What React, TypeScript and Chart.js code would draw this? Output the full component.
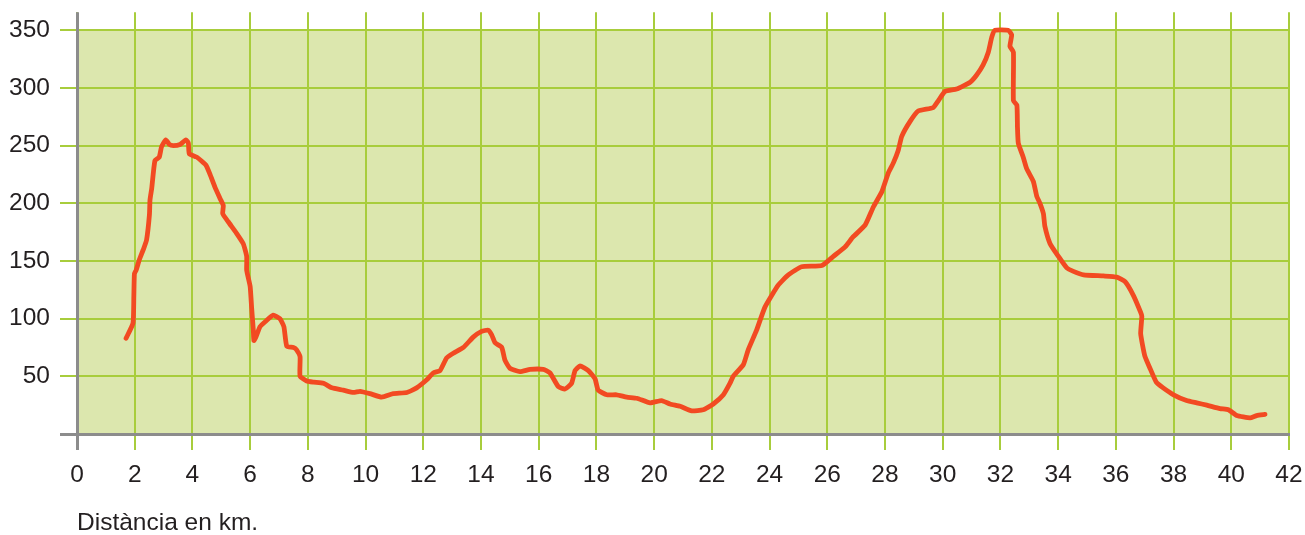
import React, { useEffect, useRef } from "react";
import { Chart, registerables } from "chart.js";

Chart.register(...registerables);

const distanceKm = [
  1.7, 1.94, 1.97, 1.99, 2.05, 2.16, 2.3, 2.41, 2.51, 2.53, 2.59, 2.7, 2.85, 2.93, 3.08, 3.2, 3.34, 3.57, 3.78, 3.86,
  3.89, 4.15, 4.47, 4.61, 4.78, 4.96, 5.07, 5.05, 5.24, 5.53, 5.76, 5.88, 5.88, 6.0, 6.05, 6.11, 6.13, 6.2, 6.34, 6.55,
  6.8, 7.03, 7.17, 7.27, 7.5, 7.61, 7.73, 7.73, 7.96, 8.2, 8.54, 8.83, 9.23, 9.58, 9.81, 10.15, 10.56, 10.96, 11.43, 11.77,
  12.12, 12.35, 12.58, 12.81, 13.04, 13.39, 13.73, 14.02, 14.25, 14.37, 14.49, 14.72, 14.83, 15.0, 15.35, 15.7, 16.16, 16.39, 16.68, 16.91,
  17.14, 17.26, 17.43, 17.72, 17.95, 18.06, 18.36, 18.7, 19.05, 19.4, 19.86, 20.26, 20.55, 20.9, 21.3, 21.7, 22.05, 22.4, 22.63, 22.74,
  23.09, 23.26, 23.55, 23.84, 24.3, 24.65, 25.11, 25.81, 26.21, 26.61, 26.9, 27.31, 27.6, 27.89, 28.11, 28.29, 28.46, 28.58, 28.87, 29.15,
  29.67, 29.85, 30.08, 30.48, 30.95, 31.17, 31.4, 31.58, 31.7, 31.81, 32.27, 32.39, 32.33, 32.45, 32.45, 32.57, 32.59, 32.62, 32.79, 32.91,
  33.14, 33.26, 33.37, 33.49, 33.54, 33.72, 34.01, 34.3, 34.53, 34.88, 35.57, 36.03, 36.32, 36.61, 36.85, 36.9, 36.86, 37.0, 37.2, 37.4,
  37.64, 38.0, 38.45, 38.8, 39.15, 39.61, 39.9, 40.19, 40.65, 40.88, 41.17,
];

const elevationM = [
  83, 96, 120, 139, 142, 151, 160, 168, 190, 203, 213, 237, 240, 249, 255, 251, 250, 251, 255, 252,
  243, 240, 233, 225, 214, 204, 198, 191, 184, 174, 165, 154, 142, 128, 110, 90, 81, 84, 93, 98,
  103, 100, 93, 76, 75, 73, 67, 50, 46, 45, 44, 40, 38, 36, 37, 35, 32, 35, 36, 40,
  47, 53, 55, 66, 70, 75, 84, 89, 90, 86, 79, 75, 64, 57, 54, 56, 56, 53, 41, 39,
  44, 55, 59, 55, 48, 38, 34, 34, 32, 31, 27, 29, 26, 24, 20, 21, 26, 34, 44, 50,
  60, 73, 90, 110, 129, 138, 145, 146, 154, 162, 171, 181, 197, 210, 226, 235, 246, 258, 271, 280,
  283, 289, 297, 299, 305, 311, 320, 331, 344, 350, 350, 346, 336, 331, 289, 285, 266, 252, 240, 230,
  219, 206, 200, 191, 180, 165, 154, 144, 141, 138, 137, 136, 132, 120, 106, 102, 87, 68, 56, 45,
  40, 34, 29, 27, 25, 22, 21, 16, 14, 16, 17,
];

const xTicks = [0, 2, 4, 6, 8, 10, 12, 14, 16, 18, 20, 22, 24, 26, 28, 30, 32, 34, 36, 38, 40, 42];
const yTicks = [50, 100, 150, 200, 250, 300, 350];
const xTitle = "Distància en km.";

const FONT = "'Liberation Sans', Arial, Helvetica, sans-serif";
const TEXT = "#231f20";
const FONT_SIZE = 24.5;

const backdrop = {
  id: "backdrop",
  beforeDatasetsDraw(chart: any) {
    const { ctx, scales, chartArea } = chart;
    const x = scales.x;
    const y = scales.y;
    const x0 = Math.round(x.getPixelForValue(xTicks[0]));
    const x1 = Math.round(x.getPixelForValue(xTicks[xTicks.length - 1]));
    const y0 = Math.round(y.getPixelForValue(0));
    const yTop = Math.round(y.getPixelForValue(yTicks[yTicks.length - 1]));
    const top = chartArea.top;
    ctx.save();
    ctx.fillStyle = "#dce7ae";
    ctx.fillRect(x0, yTop, x1 - x0, y0 - yTop);
    ctx.strokeStyle = "#a8cd3c";
    ctx.lineWidth = 2;
    ctx.beginPath();
    yTicks.forEach((v) => {
      const py = Math.round(y.getPixelForValue(v));
      ctx.moveTo(x0 - 17, py);
      ctx.lineTo(x1 + 1, py);
    });
    xTicks.forEach((v) => {
      const px = Math.round(x.getPixelForValue(v));
      ctx.moveTo(px, top);
      ctx.lineTo(px, y0 + 16);
    });
    ctx.stroke();
    ctx.strokeStyle = "#8c8c8c";
    ctx.lineWidth = 3;
    ctx.beginPath();
    ctx.moveTo(x0 + 0.5, top);
    ctx.lineTo(x0 + 0.5, y0 + 16);
    ctx.moveTo(x0 - 17, y0 + 0.5);
    ctx.lineTo(x1 + 1, y0 + 0.5);
    ctx.stroke();
    ctx.restore();
  },
};

export default function App() {
  const ref = useRef<HTMLCanvasElement | null>(null);

  useEffect(() => {
    if (!ref.current) return;
    const chart = new Chart(ref.current, {
      type: "line",
      data: {
        datasets: [
          {
            data: distanceKm.map((d, i) => ({ x: d, y: elevationM[i] })),
            borderColor: "#f24a22",
            borderWidth: 4.8,
            pointRadius: 0,
            tension: 0.15,
            borderCapStyle: "round",
            borderJoinStyle: "round",
            fill: false,
          },
        ],
      },
      options: {
        responsive: false,
        animation: false,
        devicePixelRatio: 1,
        layout: { padding: { top: 12, right: 16, left: 0, bottom: 0 } },
        plugins: { legend: { display: false }, tooltip: { enabled: false } },
        scales: {
          x: {
            type: "linear",
            min: 0,
            max: 42,
            grid: { display: false, drawTicks: true, tickLength: 29 },
            border: { display: false },
            afterBuildTicks: (s: any) => {
              s.ticks = xTicks.map((v) => ({ value: v }));
            },
            afterFit: (s: any) => {
              s.height = 101;
            },
            ticks: {
              padding: 0,
              maxRotation: 0,
              autoSkip: false,
              color: TEXT,
              font: { family: FONT, size: FONT_SIZE, lineHeight: 1 },
            },
            title: {
              display: true,
              text: xTitle,
              align: "start",
              color: TEXT,
              padding: { top: 0, bottom: 0 },
              font: { family: FONT, size: FONT_SIZE, lineHeight: 1 },
            },
          },
          y: {
            type: "linear",
            min: 0,
            max: 365.6,
            grid: { display: false, drawTicks: true, tickLength: 27 },
            border: { display: false },
            afterBuildTicks: (s: any) => {
              s.ticks = yTicks.map((v) => ({ value: v }));
            },
            afterFit: (s: any) => {
              s.width = 77;
            },
            ticks: {
              padding: 0,
              autoSkip: false,
              color: TEXT,
              font: { family: FONT, size: FONT_SIZE, lineHeight: 1 },
            },
          },
        },
      },
      plugins: [backdrop],
    });
    return () => chart.destroy();
  }, []);

  return (
    <div style={{ position: "absolute", left: 0, top: 0, width: 1305, height: 535, background: "#fff" }}>
      <canvas ref={ref} width={1305} height={535} style={{ display: "block", width: 1305, height: 535 }} />
    </div>
  );
}
